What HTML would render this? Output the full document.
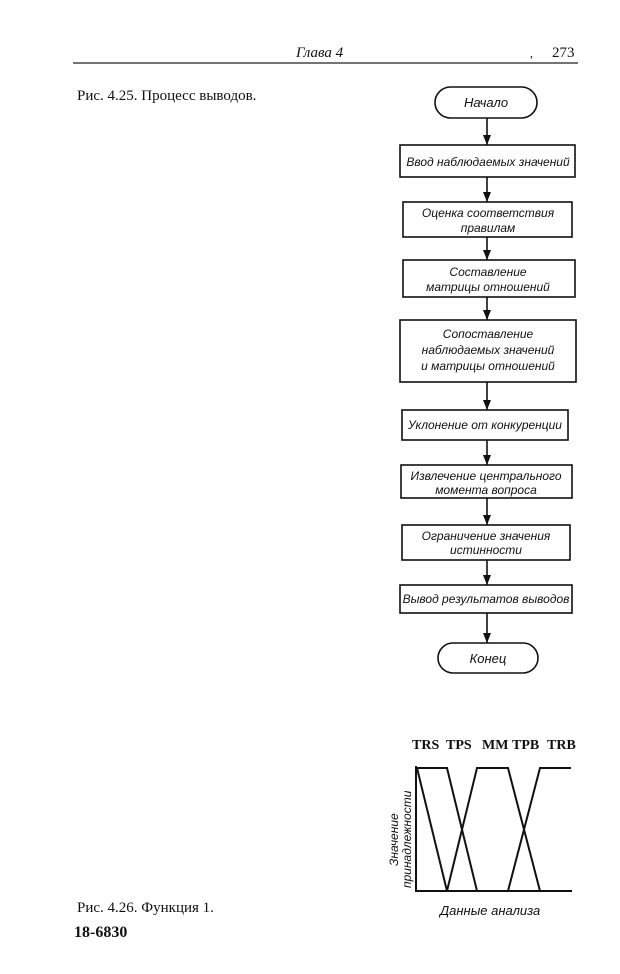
<!DOCTYPE html>
<html><head><meta charset="utf-8"><style>
body{margin:0;background:#fff;}
svg text{font-family:"Liberation Sans","DejaVu Sans",sans-serif;font-style:italic;fill:#111;}
.s{font-family:"Liberation Serif",serif !important;font-style:normal !important;}
</style></head><body>
<svg width="620" height="969" viewBox="0 0 620 969" xmlns="http://www.w3.org/2000/svg">
<defs><marker id="a" markerWidth="10" markerHeight="8" refX="10" refY="4" orient="auto" markerUnits="userSpaceOnUse"><path d="M0,0 L10,4 L0,8 Z" fill="#111"/></marker></defs>
<line x1="73" y1="63" x2="578" y2="63" stroke="#222" stroke-width="1.2"/>
<text x="296" y="57" font-size="15" class="s" style="font-style:italic!important">Глава 4</text>
<text x="530" y="57" font-size="12" class="s">,</text>
<text x="552" y="57" font-size="15" class="s">273</text>
<text x="77" y="100" font-size="15" class="s">Рис. 4.25. Процесс выводов.</text>
<g stroke="#111" stroke-width="1.6" fill="none">
<rect x="435" y="87" width="102" height="31" rx="15.5"/>
<rect x="400" y="145" width="175" height="32"/>
<rect x="403" y="202" width="169" height="35"/>
<rect x="403" y="260" width="172" height="37"/>
<rect x="400" y="320" width="176" height="62"/>
<rect x="402" y="410" width="166" height="30"/>
<rect x="401" y="465" width="171" height="33"/>
<rect x="402" y="525" width="168" height="35"/>
<rect x="400" y="585" width="172" height="28"/>
<rect x="438" y="643" width="100" height="30" rx="15"/>
<g marker-end="url(#a)">
<line x1="487" y1="118" x2="487" y2="145"/>
<line x1="487" y1="177" x2="487" y2="202"/>
<line x1="487" y1="237" x2="487" y2="260"/>
<line x1="487" y1="297" x2="487" y2="320"/>
<line x1="487" y1="382" x2="487" y2="410"/>
<line x1="487" y1="440" x2="487" y2="465"/>
<line x1="487" y1="498" x2="487" y2="525"/>
<line x1="487" y1="560" x2="487" y2="585"/>
<line x1="487" y1="613" x2="487" y2="643"/>
</g>
</g>
<g font-size="12" text-anchor="middle">
<text x="486" y="107" font-size="13">Начало</text>
<text x="488" y="166">Ввод наблюдаемых значений</text>
<text x="488" y="217">Оценка соответствия</text>
<text x="488" y="232">правилам</text>
<text x="488" y="276">Составление</text>
<text x="488" y="291">матрицы отношений</text>
<text x="488" y="338">Сопоставление</text>
<text x="488" y="354">наблюдаемых значений</text>
<text x="488" y="370">и матрицы отношений</text>
<text x="485" y="429">Уклонение от конкуренции</text>
<text x="486" y="480">Извлечение центрального</text>
<text x="486" y="494">момента вопроса</text>
<text x="486" y="540">Ограничение значения</text>
<text x="486" y="554">истинности</text>
<text x="486" y="603">Вывод результатов выводов</text>
<text x="488" y="663" font-size="13">Конец</text>
</g>
<g font-size="14">
<text x="412" y="749" class="s" style="font-weight:bold">TRS</text>
<text x="446" y="749" class="s" style="font-weight:bold">TPS</text>
<text x="482" y="749" class="s" style="font-weight:bold">MM</text>
<text x="512" y="749" class="s" style="font-weight:bold">TPB</text>
<text x="547" y="749" class="s" style="font-weight:bold">TRB</text>
</g>
<g stroke="#111" stroke-width="2" fill="none">
<polyline points="416,766 416,891 572,891"/>
<polyline points="416,768 447,768 477,891"/>
<line x1="417" y1="768" x2="447" y2="891"/>
<polyline points="447,891 477,768 508,768 540,891"/>
<polyline points="508,891 540,768 571,768"/>
</g>
<text transform="translate(398,866) rotate(-90)" font-size="12">Значение</text>
<text transform="translate(411,888) rotate(-90)" font-size="12">принадлежности</text>
<text x="440" y="915" font-size="13">Данные анализа</text>
<text x="77" y="912" font-size="15" class="s">Рис. 4.26. Функция 1.</text>
<text x="74" y="937" font-size="16" class="s" style="font-weight:bold">18-6830</text>
</svg>
</body></html>
